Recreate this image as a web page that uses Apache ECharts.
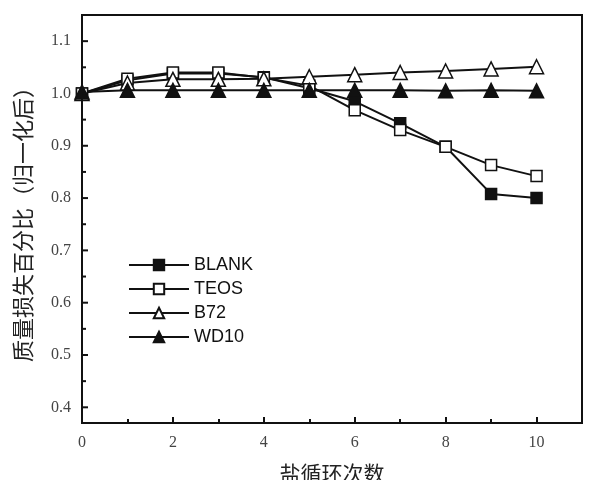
<!DOCTYPE html>
<html><head><meta charset="utf-8">
<script src="https://cdn.jsdelivr.net/npm/echarts@6/dist/echarts.min.js"></script>
<style>html,body{margin:0;padding:0;background:#fff}#c{width:597px;height:480px}</style>
</head><body><div id="c"></div>
<script>
const cycles = [0,1,2,3,4,5,6,7,8,9,10];
const blank = [1.000,1.025,1.038,1.038,1.031,1.010,0.985,0.943,0.898,0.808,0.800];
const teos  = [1.000,1.028,1.040,1.040,1.030,1.015,0.968,0.930,0.898,0.863,0.842];
const b72   = [1.000,1.020,1.027,1.027,1.028,1.032,1.036,1.040,1.043,1.047,1.051];
const wd10  = [1.003,1.006,1.006,1.006,1.006,1.006,1.006,1.006,1.005,1.006,1.005];
const yTicks = [0.4,0.5,0.6,0.7,0.8,0.9,1.0,1.1];

const chart = echarts.init(document.getElementById('c'), null, {renderer:'canvas'});
function mk(name, data, symbol, filled, size){
  return {
    name, type:'line', data: cycles.map((c,i)=>[c,data[i]]),
    symbol, symbolSize:size, showAllSymbol:true,
    lineStyle:{color:'#111', width:2},
    itemStyle:{color: filled ? '#111' : '#fff', borderColor:'#111', borderWidth:1.5, opacity:1},
    emphasis:{disabled:true}, animation:false
  };
}
const axisFont = {fontFamily:'Liberation Serif', fontSize:16, color:'#444'};
chart.setOption({
  animation:false,
  backgroundColor:'#fff',
  grid:{left:82, top:15, right:15, bottom:57, containLabel:false, outerBoundsMode:'none'},
  legend:{
    orient:'vertical', left:123, top:251, itemWidth:60, itemHeight:13, itemGap:6,
    textStyle:{fontFamily:'Liberation Sans', fontSize:18, color:'#111'},
    data:['BLANK','TEOS','B72','WD10']
  },
  xAxis:{
    type:'value', min:0, max:11, interval:2,
    name:'盐循环次数', nameLocation:'middle', nameGap:40,
    nameTextStyle:{fontFamily:'Noto Sans CJK SC', fontSize:21, color:'#222'},
    axisLine:{show:true, lineStyle:{color:'#111', width:2}},
    axisTick:{show:true, inside:true, length:6, lineStyle:{color:'#111', width:2}},
    minorTick:{show:true, splitNumber:2, length:4, lineStyle:{color:'#111', width:2}},
    splitLine:{show:false},
    axisLabel:Object.assign({margin:12, showMaxLabel:false, formatter:v=>v>10?'':String(v)}, axisFont)
  },
  yAxis:{
    type:'value', min:0.37, max:1.15,
    name:'质量损失百分比（归一化后）', nameLocation:'middle', nameGap:48, nameRotate:90,
    nameTextStyle:{fontFamily:'Noto Sans CJK SC', fontSize:22, color:'#222'},
    axisLine:{show:true, lineStyle:{color:'#111', width:2}},
    axisTick:{show:false},
    splitLine:{show:false},
    axisLabel:{show:false}
  },
  series:[
    mk('BLANK', blank, 'rect', true, 11),
    mk('TEOS', teos, 'rect', false, 11),
    mk('B72', b72, 'triangle', false, 14),
    mk('WD10', wd10, 'triangle', true, 14)
  ]
});

const g = [];
const x0 = chart.convertToPixel({gridIndex:0},[0,0.37]);
const x1 = chart.convertToPixel({gridIndex:0},[11,1.15]);
g.push({type:'rect', shape:{x:x0[0], y:x1[1], width:x1[0]-x0[0], height:x0[1]-x1[1]}, style:{fill:null, stroke:'#111', lineWidth:2}, z:10});
yTicks.forEach(v=>{
  const p = chart.convertToPixel({gridIndex:0},[0,v]);
  g.push({type:'line', shape:{x1:p[0], y1:p[1], x2:p[0]+6, y2:p[1]}, style:{stroke:'#111', lineWidth:2}, z:10});
  g.push({type:'text', x:p[0]-11, y:p[1], style:{text:v.toFixed(1), textAlign:'right', textVerticalAlign:'middle', font:'16px "Liberation Serif"', fill:'#444'}, z:10});
  if (v < 1.1){
    const q = chart.convertToPixel({gridIndex:0},[0,v+0.05]);
    g.push({type:'line', shape:{x1:q[0], y1:q[1], x2:q[0]+4, y2:q[1]}, style:{stroke:'#111', lineWidth:2}, z:10});
  }
});
chart.setOption({graphic:g});
</script></body></html>
